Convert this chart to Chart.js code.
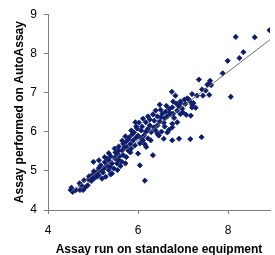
<!DOCTYPE html>
<html>
<head>
<meta charset="utf-8">
<script src="https://cdn.jsdelivr.net/npm/chart.js@4"></script>
<style>
  html, body { margin: 0; padding: 0; background: #fff; overflow: hidden; }
  #wrap { width: 275px; height: 255px; position: relative; }
</style>
</head>
<body>
<div id="wrap"><canvas id="assayChart"></canvas></div>
<script>
// ── DATA ──
const assayX = [
  4.52, 4.55, 4.62, 4.70, 4.71, 4.78, 4.50, 4.88, 4.90, 4.95, 4.98, 5.01, 5.02, 5.06, 5.09, 5.13,
  5.17, 5.20, 5.24, 5.28, 5.31, 5.35, 5.38, 5.42, 5.46, 5.49, 5.31, 5.53, 5.53, 5.42, 4.83, 4.96,
  5.09, 5.22, 5.57, 5.61, 5.64, 5.67, 5.59, 5.72, 5.67, 5.75, 5.64, 5.49, 5.78, 5.83, 5.89, 5.85,
  5.94, 6.17, 6.36, 6.07, 6.22, 6.29, 6.00, 5.96, 6.04, 6.00, 6.33, 6.18, 6.15, 6.11, 6.04, 6.13,
  6.22, 6.09, 6.26, 6.43, 6.39, 6.46, 6.52, 5.98, 5.91, 5.80, 5.74, 5.70, 5.57, 5.50, 5.39, 5.35,
  5.26, 5.17, 5.13, 5.02, 4.91, 4.80, 4.74, 5.87, 5.78, 6.75, 6.85, 6.94, 7.05, 7.20, 6.76, 6.69,
  6.61, 6.70, 6.54, 6.87, 6.94, 7.07, 7.17, 6.51, 6.59, 6.65, 6.48, 6.57, 6.76, 6.87, 6.76, 6.91,
  6.76, 7.16, 7.41, 6.57, 6.69, 6.43, 6.80, 6.98, 6.78, 6.63, 7.09, 7.20, 6.72, 6.90, 6.94, 7.03,
  7.12, 7.16, 7.23, 7.20, 7.28, 7.31, 7.44, 7.58, 8.06, 7.42, 7.50, 7.54, 7.62, 7.57, 7.60, 7.35,
  7.88, 7.99, 8.25, 8.34, 8.17, 8.59, 8.92, 5.57, 5.65, 5.72, 5.85, 5.96, 6.02, 6.11, 6.22, 6.26,
  6.33, 6.39, 6.35, 6.17, 6.07, 5.93, 5.83, 5.74, 5.54, 5.39, 6.43, 6.50, 6.59, 6.65, 6.28, 6.15,
  5.48, 5.35, 5.26, 6.83, 7.00, 6.78, 6.48, 5.13
];
const assayY = [
  4.57, 4.46, 4.51, 4.68, 4.51, 4.51, 4.51, 4.63, 4.78, 4.85, 4.89, 5.23, 4.80, 4.93, 4.97, 4.89,
  5.02, 4.80, 5.06, 4.85, 5.14, 5.02, 5.10, 5.19, 5.06, 5.31, 5.31, 5.19, 5.44, 4.93, 4.58, 4.74,
  4.85, 4.96, 5.27, 5.12, 5.23, 5.40, 5.37, 5.19, 5.69, 5.61, 5.52, 5.35, 5.52, 5.68, 5.78, 5.57,
  6.24, 6.24, 6.28, 6.03, 6.07, 5.99, 5.90, 5.85, 5.14, 5.44, 5.40, 5.61, 4.75, 5.78, 5.70, 5.90,
  5.83, 6.13, 6.16, 6.16, 6.03, 5.90, 6.00, 6.08, 5.98, 5.85, 5.75, 5.60, 5.52, 5.47, 5.37, 5.27,
  5.22, 5.14, 5.07, 4.99, 4.86, 4.76, 4.63, 5.93, 5.80, 7.02, 6.72, 6.72, 6.71, 6.62, 6.62, 6.58,
  6.51, 6.49, 6.46, 6.54, 6.45, 6.43, 6.41, 6.37, 6.34, 6.39, 6.26, 6.23, 6.20, 6.24, 6.11, 5.82,
  5.78, 5.81, 5.86, 5.82, 6.05, 5.95, 6.35, 6.59, 6.77, 6.66, 6.85, 6.96, 6.44, 6.66, 6.77, 6.82,
  6.83, 6.77, 6.73, 6.68, 6.61, 6.92, 6.92, 6.94, 6.89, 7.08, 7.05, 7.20, 7.19, 7.23, 7.30, 7.33,
  7.49, 7.81, 7.88, 8.03, 8.42, 8.41, 8.59, 5.62, 5.77, 5.88, 6.03, 6.13, 6.23, 6.33, 6.39, 6.31,
  6.44, 6.54, 6.11, 6.00, 5.83, 5.65, 5.47, 5.35, 5.02, 4.91, 6.39, 6.56, 6.13, 5.98, 5.78, 5.68,
  5.57, 5.45, 5.35, 6.92, 6.49, 6.46, 6.69, 5.27
];
// linear trendline end points
const trendX = [4.52, 9.0];
const trendY = [4.47, 8.41];
const xTicks = [4, 6, 8];
const yTicks = [4, 5, 6, 7, 8, 9];

const AXIS = '#808080';
const FONT = "'Liberation Sans', Arial, sans-serif";

Chart.defaults.font.family = FONT;
Chart.defaults.color = '#000';

const points = assayX.map((x, i) => ({ x, y: assayY[i] }));
const trend = trendX.map((x, i) => ({ x, y: trendY[i] }));

new Chart(document.getElementById('assayChart'), {
  type: 'scatter',
  data: {
    datasets: [
      {
        type: 'line',
        data: trend,
        borderColor: '#707070',
        borderWidth: 1,
        pointRadius: 0,
        fill: false,
      },
      {
        data: points,
        pointStyle: 'rectRot',
        pointRadius: 2.6,
        backgroundColor: '#0b1a68',
        borderColor: '#1c2c7c',
        borderWidth: 1,
      },
    ],
  },
  options: {
    responsive: true,
    maintainAspectRatio: false,
    animation: false,
    events: [],
    layout: { padding: { top: 13, right: 0, left: 0, bottom: 0 } },
    plugins: { legend: { display: false }, tooltip: { enabled: false } },
    scales: {
      x: {
        type: 'linear',
        min: 4,
        max: 8.93,
        afterBuildTicks: s => { s.ticks = xTicks.map(v => ({ value: v })); },
        afterFit: s => { s.height = 45; },
        border: { color: AXIS, width: 1 },
        grid: { drawOnChartArea: false, drawTicks: true, tickLength: 4, color: AXIS },
        ticks: { padding: 9, font: { size: 12 }, maxRotation: 0 },
        title: {
          display: true,
          text: 'Assay run on standalone equipment',
          font: { size: 12, weight: 'bold' },
          padding: { top: -2, bottom: -2 },
        },
      },
      y: {
        type: 'linear',
        min: 4,
        max: 9,
        afterBuildTicks: s => { s.ticks = yTicks.map(v => ({ value: v })); },
        afterFit: s => { s.width = 48; },
        border: { color: AXIS, width: 1 },
        grid: { drawOnChartArea: false, drawTicks: true, tickLength: 4, color: AXIS },
        ticks: { padding: 7, font: { size: 12 } },
        title: {
          display: true,
          text: 'Assay performed on AutoAssay',
          font: { size: 12, weight: 'bold' },
          padding: { top: 12, bottom: 12 },
        },
      },
    },
  },
});
</script>
</body>
</html>
